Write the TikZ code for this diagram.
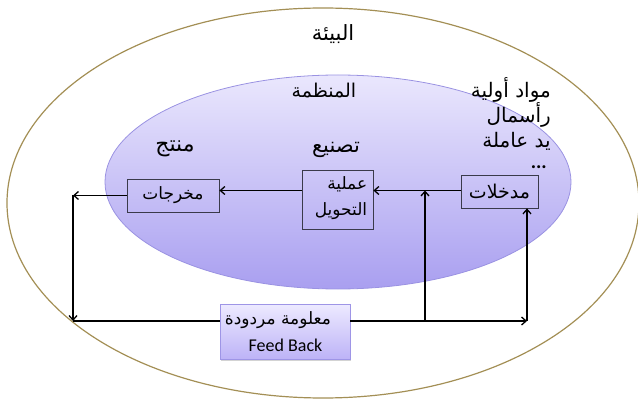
\documentclass[tikz,border=0pt]{standalone}
\usepackage{fontspec}
\setmainfont{Carlito}
\newfontfamily\ar[Script=Arabic]{DejaVu Sans}
\TeXXeTstate=1
\usetikzlibrary{arrows.meta,shadows}
\definecolor{envline}{HTML}{A38F55}
\definecolor{orgtop}{HTML}{EAE7FD}
\definecolor{orgbot}{HTML}{A99FF0}
\definecolor{orgline}{HTML}{9A92E2}
\definecolor{fbtop}{HTML}{EDEAFF}
\definecolor{fbbot}{HTML}{BDB3F7}
\definecolor{fbline}{HTML}{9E95E6}
\definecolor{boxline}{HTML}{3A3A4A}
\tikzset{
  arr/.style={line width=1.3pt,-{Straight Barb[length=4.5pt,width=8pt,line width=1.3pt]}},
  ln/.style={line width=1.3pt},
  procbox/.style={draw=boxline,line width=0.8pt,inner sep=0pt},
  lbl/.style={font=\ar\fontsize{20}{24}\selectfont,inner sep=0pt},
  boxtxt/.style={font=\ar\fontsize{17}{26}\selectfont,inner sep=0pt},
}
\begin{document}
\begin{tikzpicture}[x=1pt,y=-1pt]
\useasboundingbox (0,0) rectangle (638,401);
% environment
\draw[envline,line width=1.2pt] (323,203) ellipse [x radius=316,y radius=195];
% organisation
\shade[top color=orgtop,bottom color=orgbot] (338,182) ellipse [x radius=233,y radius=107];
\draw[orgline,line width=0.8pt] (338,182) ellipse [x radius=233,y radius=107];
% texts
\node[lbl,font=\ar\fontsize{21}{24}\selectfont] (env) at (333,34) {\beginR البيئة\endR};
\node[lbl,font=\ar\fontsize{19}{24}\selectfont] (org) at (324,91) {\beginR المنظمة\endR};
\node[lbl,font=\ar\fontsize{22}{24}\selectfont] (prod) at (175,149) {\beginR منتج\endR};
\node[lbl,font=\ar\fontsize{21}{24}\selectfont] (manu) at (336,150) {\beginR تصنيع\endR};
\node[font=\ar\fontsize{20}{25}\selectfont,align=right,anchor=north east,inner sep=0pt] (res) at (551,77)
  {\beginR مواد أولية\endR\\\beginR رأسمال\endR\\\beginR يد عاملة\endR};
\node[font=\bfseries\fontsize{20}{24}\selectfont,inner sep=0pt,anchor=east] (dots) at (547,167) {...};
% boxes
\node[procbox,minimum width=92pt,minimum height=33pt] (out) at (173,195.5) {};
\node[boxtxt] (outt) at (out.center) {\beginR مخرجات\endR};
\node[procbox,minimum width=71pt,minimum height=59pt] (proc) at (337.5,199.5) {};
\node[boxtxt,align=right] (proct) at (341,198.5) {\beginR عملية\endR\\\beginR التحويل\endR};
\node[procbox,minimum width=77pt,minimum height=33pt] (in) at (499.5,191.5) {};
\node[boxtxt,font=\ar\fontsize{19}{26}\selectfont] (int) at (in.center) {\beginR مدخلات\endR};
% feedback box
\node[draw=fbline,line width=0.8pt,top color=fbtop,bottom color=fbbot,minimum width=130pt,minimum height=55pt,
  drop shadow={shadow xshift=1pt,shadow yshift=-1.5pt,opacity=0.35}] (fb) at (285,331.5) {};
\node[boxtxt,font=\ar\fontsize{17}{20}\selectfont] (fbt1) at (278,320) {\beginR معلومة مردودة\endR};
\node[font=\fontsize{18}{20}\selectfont,inner sep=0pt] (fbt2) at (285.5,345) {Feed Back};
% connectors
\coordinate (c1) at (73,195.5);
\coordinate (c2) at (73,321);
\coordinate (c3) at (527,321);
\coordinate (j1) at (425,321);
\draw[arr] (in.west |- 0,190.5) -- (proc.east |- 0,190.5);
\draw[arr] (proc.west |- 0,190.5) -- (out.east |- 0,190.5);
\draw[arr] (out.west) -- (c1);
\draw[arr] (c1) -- (c2);
\draw[ln] (c2) -- (fb.west |- c2);
\draw[arr] (fb.east |- c2) -- (c3);
\draw[arr] (c3) -- (c3 |- in.south);
\draw[arr] (j1) -- (j1 |- 0,190.5);
\end{tikzpicture}
\end{document}
